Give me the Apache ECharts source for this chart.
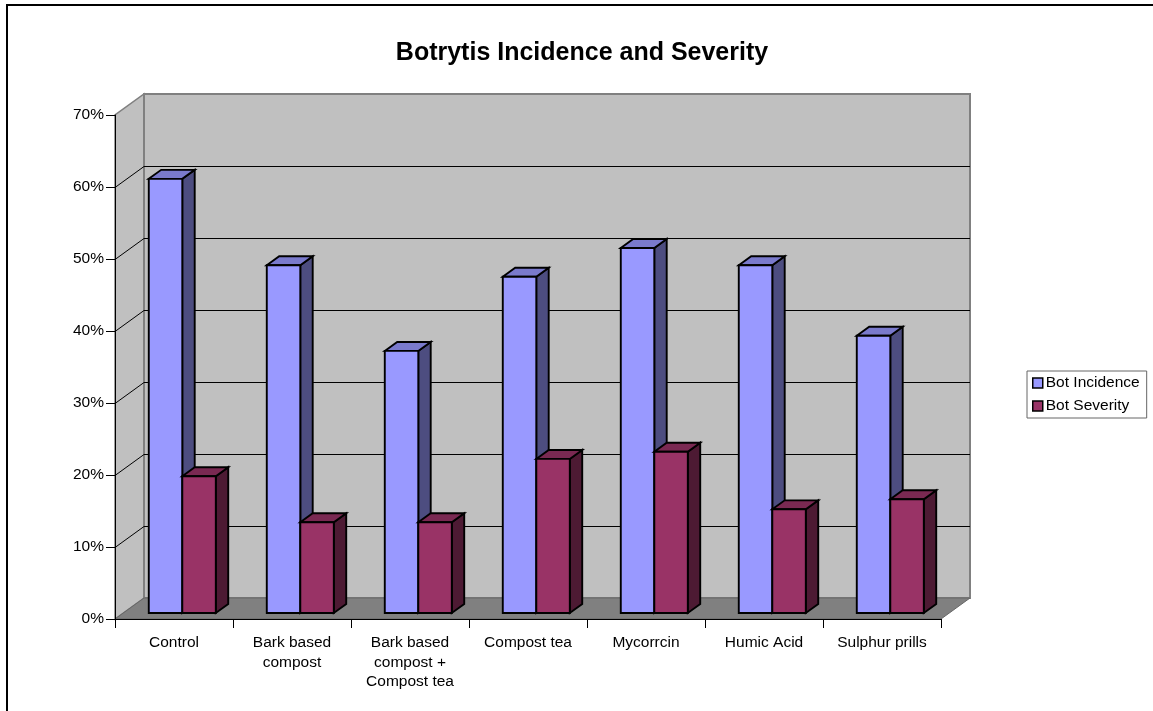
<!DOCTYPE html>
<html>
<head>
<meta charset="utf-8">
<style>html,body{margin:0;padding:0;background:#fff}#chart{width:1153px;height:711px}</style>
<script src="https://cdn.jsdelivr.net/npm/echarts@6/dist/echarts.min.js"></script>
</head>
<body>
<div id="chart"></div>
<script>
// Botrytis trial results, as fractions of plants / tissue affected
const categories = ['Control', 'Bark based\ncompost', 'Bark based\ncompost +\nCompost tea', 'Compost tea', 'Mycorrcin', 'Humic Acid', 'Sulphur prills'];
const botIncidence = [0.603, 0.483, 0.364, 0.467, 0.507, 0.483, 0.385];
const botSeverity = [0.190, 0.126, 0.126, 0.214, 0.224, 0.144, 0.158];
const gridValues = [0, 0.1, 0.2, 0.3, 0.4, 0.5, 0.6, 0.7];

// Oblique projection of the chart box, in pixels
const boxDepth = [29, -21];
const barNear = 0.286;   // front of a bar, as a fraction of the box depth
const barFar = 0.714;    // back of a bar
const barShare = 0.284;  // width of one bar as a share of the category band
const tickLength = 9;

const wallColor = '#C0C0C0';
const floorColor = '#808080';
const edgeColor = '#808080';

function shade(points, fill, stroke, lineWidth) {
  return {
    type: 'polygon',
    shape: { points: points },
    style: { fill: fill, stroke: stroke, lineWidth: lineWidth, lineJoin: 'miter' }
  };
}

function stroke(x1, y1, x2, y2) {
  return { type: 'line', shape: { x1: x1, y1: y1, x2: x2, y2: y2 }, style: { stroke: '#000', lineWidth: 1 } };
}

// Walls, floor, gridlines and the tick marks around the front of the box
function renderBox(params, api) {
  const c = params.coordSys;
  const left = c.x, right = c.x + c.width, top = c.y, bottom = c.y + c.height;
  const dx = boxDepth[0], dy = boxDepth[1];
  const children = [
    shade([[left, bottom], [left + dx, bottom + dy], [left + dx, top + dy], [left, top]], wallColor, edgeColor, 1.5),
    shade([[left + dx, bottom + dy], [right + dx, bottom + dy], [right + dx, top + dy], [left + dx, top + dy]], wallColor, edgeColor, 2),
    shade([[left, bottom], [right, bottom], [right + dx, bottom + dy], [left + dx, bottom + dy]], floorColor, '#666666', 1)
  ];
  gridValues.forEach(function (v) {
    const y = Math.round(api.coord([0, v])[1]) + 0.5;
    if (v > 0 && v < 0.7) {
      children.push({
        type: 'polyline',
        shape: { points: [[left, y], [left + dx, y + dy], [right + dx, y + dy]] },
        style: { fill: 'none', stroke: '#000', lineWidth: 1 }
      });
    }
    children.push(stroke(left - tickLength, y, left, y));
  });
  for (let i = 0; i <= categories.length; i++) {
    const x = Math.round(left + i * c.width / categories.length) + 0.5;
    children.push(stroke(x, bottom, x, bottom + tickLength));
  }
  return { type: 'group', children: children };
}

function barRenderer(seriesIndex, front, topFace, sideFace) {
  return function (params, api) {
    const index = api.value(0);
    const band = api.size([1, 0])[0];
    const w = band * barShare;
    const center = api.coord([index, 0])[0];
    const baseY = api.coord([index, 0])[1];
    const topY = api.coord([index, api.value(1)])[1];
    const nx = boxDepth[0] * barNear, ny = boxDepth[1] * barNear;
    const fx = boxDepth[0] * (barFar - barNear), fy = boxDepth[1] * (barFar - barNear);
    const x0 = center + nx - w + seriesIndex * w;
    const x1 = x0 + w;
    const y0 = topY + ny, y1 = baseY + ny;
    const line = 1.9;
    return {
      type: 'group',
      children: [
        shade([[x1, y0], [x1 + fx, y0 + fy], [x1 + fx, y1 + fy], [x1, y1]], sideFace, '#000', line),
        shade([[x0, y0], [x0 + fx, y0 + fy], [x1 + fx, y0 + fy], [x1, y0]], topFace, '#000', line),
        shade([[x0, y0], [x1, y0], [x1, y1], [x0, y1]], front, '#000', line)
      ]
    };
  };
}

const labelFont = { color: '#000', fontFamily: '"Liberation Sans", Arial, sans-serif', fontSize: 15.5 };

const chart = echarts.init(document.getElementById('chart'), null, { renderer: 'canvas' });
chart.setOption({
  animation: false,
  backgroundColor: '#fff',
  title: {
    text: 'Botrytis Incidence and Severity',
    left: 577, top: 36, textAlign: 'center',
    textStyle: { color: '#000', fontFamily: '"Liberation Sans", Arial, sans-serif', fontWeight: 'bold', fontSize: 25 }
  },
  legend: {
    data: ['Bot Incidence', 'Bot Severity'],
    orient: 'vertical', left: 1027, top: 371,
    padding: [4, 7, 4, 5], itemGap: 7, itemWidth: 10, itemHeight: 10,
    borderColor: '#666666', borderWidth: 1, backgroundColor: '#fff',
    icon: 'rect',
    itemStyle: { borderColor: '#000', borderWidth: 1.5 },
    textStyle: Object.assign({}, labelFont, { padding: [0, 0, 0, -2] })
  },
  grid: { left: 115, top: 115, width: 826, height: 504 },
  xAxis: {
    type: 'category', data: categories, z: 5,
    axisLine: { lineStyle: { color: '#000', width: 1 } },
    axisTick: { show: false },
    axisLabel: Object.assign({}, labelFont, { margin: 14, lineHeight: 19.5, interval: 0 })
  },
  yAxis: {
    type: 'value', min: 0, max: 0.7, interval: 0.1, z: 5,
    axisLine: { show: true, lineStyle: { color: '#000', width: 1 } },
    axisTick: { show: false },
    splitLine: { show: false },
    axisLabel: Object.assign({}, labelFont, {
      margin: 11,
      formatter: function (v) { return Math.round(v * 100) + '%'; }
    })
  },
  series: [
    { type: 'custom', name: 'box', silent: true, z: 1, renderItem: renderBox, data: [[0, 0]], clip: false },
    {
      type: 'custom', name: 'Bot Incidence', z: 2, clip: false,
      itemStyle: { color: '#9999FF' },
      encode: { x: 0, y: 1 },
      renderItem: barRenderer(0, '#9999FF', '#7A7ACC', '#4D4D80'),
      data: botIncidence.map(function (v, i) { return [i, v]; })
    },
    {
      type: 'custom', name: 'Bot Severity', z: 3, clip: false,
      itemStyle: { color: '#993366' },
      encode: { x: 0, y: 1 },
      renderItem: barRenderer(1, '#993366', '#7A2952', '#4D1A33'),
      data: botSeverity.map(function (v, i) { return [i, v]; })
    }
  ],
  graphic: [
    { type: 'line', shape: { x1: 7, y1: 5, x2: 1153, y2: 5 }, style: { stroke: '#000', lineWidth: 2 }, silent: true },
    { type: 'line', shape: { x1: 7, y1: 4, x2: 7, y2: 711 }, style: { stroke: '#000', lineWidth: 2 }, silent: true }
  ]
});
</script>
</body>
</html>
